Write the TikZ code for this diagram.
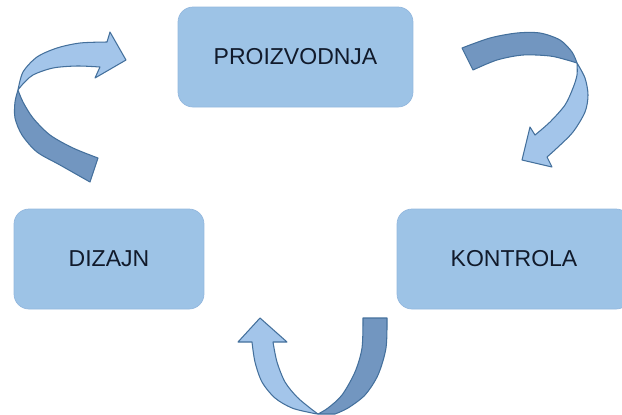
\documentclass[tikz,border=0pt]{standalone}
\usepackage{fontspec}
\setmainfont{Liberation Sans}
\definecolor{boxfill}{HTML}{9DC3E6}
\definecolor{boxedge}{HTML}{94B8DE}
\definecolor{boxtext}{HTML}{111A2B}
\definecolor{arrowlight}{HTML}{A3C5EA}
\definecolor{arrowdark}{HTML}{7296C0}
\definecolor{arrowedge}{HTML}{44709C}
\begin{document}
\begin{tikzpicture}[x=0.02cm,y=-0.02cm]
    \tikzstyle{stage}=[draw=boxedge, fill=boxfill, rounded corners=0.3cm, minimum height=2cm, text=boxtext, font=\fontsize{13.1}{15}\selectfont]
    \tikzstyle{front}=[fill=arrowlight, draw=arrowedge, line width=0.6pt, line join=round]
    \tikzstyle{back}=[fill=arrowdark, draw=arrowedge, line width=0.6pt, line join=round]

    \useasboundingbox (0,0) rectangle (622,414);

    \node[stage, minimum width=4.7cm](proizvodnja) at (295.5,57) {PROIZVODNJA};
    \node[stage, minimum width=3.8cm](dizajn) at (109,259) {DIZAJN};
    \node[stage, minimum width=4.68cm](kontrola) at (514,259) {KONTROLA};

    % dizajn -> proizvodnja
    \draw[back] plot[smooth] coordinates {(90,182) (60,165) (37,152) (22,135) (15,118) (15,102) (18,90)}
        -- plot[smooth] coordinates {(18,90) (23,102) (33,118) (50,135) (73,148) (98,158)} -- cycle;
    \draw[front] plot[smooth] coordinates {(18,90) (23,72) (37,57) (57,48) (80,43) (107,42)}
        -- (110,32) -- (126,60) -- (95,78) -- (100,67)
        -- plot[smooth] coordinates {(100,67) (77,66) (53,68) (33,75) (22,85) (18,90)} -- cycle;

    % proizvodnja -> kontrola
    \draw[back] plot[smooth] coordinates {(462,48) (490,38) (517,33) (540,33) (560,40) (572,52) (577,63)}
        -- plot[smooth] coordinates {(577,63) (567,60) (550,56) (523,55) (497,60) (473,70)} -- cycle;
    \draw[front] plot[smooth] coordinates {(577,63) (585,78) (588,95) (585,112) (573,132) (557,148) (547,157)}
        -- (552,167) -- (522,160) -- (530,127) -- (535,135)
        -- plot[smooth] coordinates {(535,135) (550,122) (565,105) (573,88) (577,75) (577,63)} -- cycle;

    % kontrola -> dizajn
    \draw[front] (260,318) -- (238,342) -- (252,342)
        -- plot[smooth] coordinates {(252,342) (255,362) (262,382) (275,398) (292,408) (312,413) (318,414)}
        -- plot[smooth] coordinates {(318,414) (310,408) (297,397) (285,382) (277,362) (273,342)}
        -- (287,342) -- cycle;
    \draw[back] plot[smooth] coordinates {(318,414) (328,408) (342,395) (355,372) (362,348) (363,318)}
        -- (387,318)
        -- plot[smooth] coordinates {(387,318) (386,348) (378,375) (365,395) (348,408) (335,414)} -- cycle;

\end{tikzpicture}
\end{document}
